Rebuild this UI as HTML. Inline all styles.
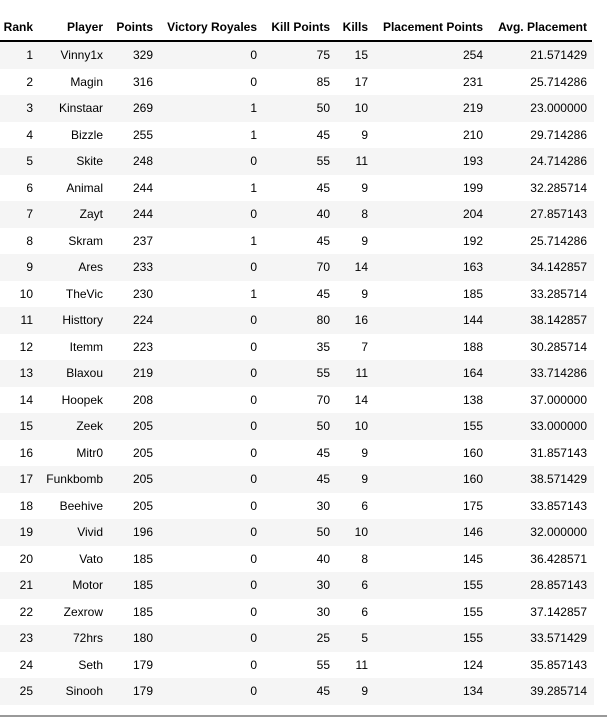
<!DOCTYPE html>
<html><head><meta charset="utf-8"><style>
body{margin:0;width:607px;height:718px;background:#fff;font-family:"Liberation Sans",Arial,sans-serif;font-size:12px;color:#000;position:relative;overflow:hidden}
.row{position:absolute;left:0;width:594px;height:26.52px}
.row.odd{background:#f5f5f5}
.c{position:absolute;line-height:26.52px;white-space:nowrap;transform:translateX(-100%)}
.h .c{font-weight:bold;line-height:20px}
#hline{position:absolute;left:0;top:40px;width:592px;height:1.5px;background:#000}
#bline{position:absolute;left:0;top:715px;width:607px;height:2px;background:#999}
</style></head><body>
<div id="tbl"></div>
<div id="hline"></div>
<div id="bline"></div>
<script>
const headers=["Rank","Player","Points","Victory Royales","Kill Points","Kills","Placement Points","Avg. Placement"];
const players=["Vinny1x","Magin","Kinstaar","Bizzle","Skite","Animal","Zayt","Skram","Ares","TheVic","Histtory","Itemm","Blaxou","Hoopek","Zeek","Mitr0","Funkbomb","Beehive","Vivid","Vato","Motor","Zexrow","72hrs","Seth","Sinooh"];
const points=[329,316,269,255,248,244,244,237,233,230,224,223,219,208,205,205,205,205,196,185,185,185,180,179,179];
const victories=[0,0,1,1,0,1,0,1,0,1,0,0,0,0,0,0,0,0,0,0,0,0,0,0,0];
const killPoints=[75,85,50,45,55,45,40,45,70,45,80,35,55,70,50,45,45,30,50,40,30,30,25,55,45];
const kills=[15,17,10,9,11,9,8,9,14,9,16,7,11,14,10,9,9,6,10,8,6,6,5,11,9];
const placementPoints=[254,231,219,210,193,199,204,192,163,185,144,188,164,138,155,160,160,175,146,145,155,155,155,124,134];
const avgPlacement=["21.571429","25.714286","23.000000","29.714286","24.714286","32.285714","27.857143","25.714286","34.142857","33.285714","38.142857","30.285714","33.714286","37.000000","33.000000","31.857143","38.571429","33.857143","32.000000","36.428571","28.857143","37.142857","33.571429","35.857143","39.285714"];
const rights=[33,103,153,257,330,368,483,587];
const colNames=["rank","player","points","victory-royales","kill-points","kills","placement-points","avg-placement"];
const tbl=document.getElementById('tbl');
const hdr=document.createElement('div');


hdr.className='row h';hdr.style.top='17px';hdr.style.height='20px';
headers.forEach((t,i)=>{const s=document.createElement('span');


s.className='c';s.style.left=rights[i]+'px';s.textContent=t;hdr.appendChild(s);});
tbl.appendChild(hdr);
players.forEach((p,r)=>{const row=document.createElement('div');


row.className='row'+(r%2===0?' odd':'');row.style.top=(42+r*26.52)+'px';
const vals=[r+1,p,points[r],victories[r],killPoints[r],kills[r],placementPoints[r],avgPlacement[r]];
vals.forEach((v,i)=>{const s=document.createElement('span');


s.className='c';s.style.left=rights[i]+'px';s.textContent=v;row.appendChild(s);});
tbl.appendChild(row);});
</script>
</body></html>
